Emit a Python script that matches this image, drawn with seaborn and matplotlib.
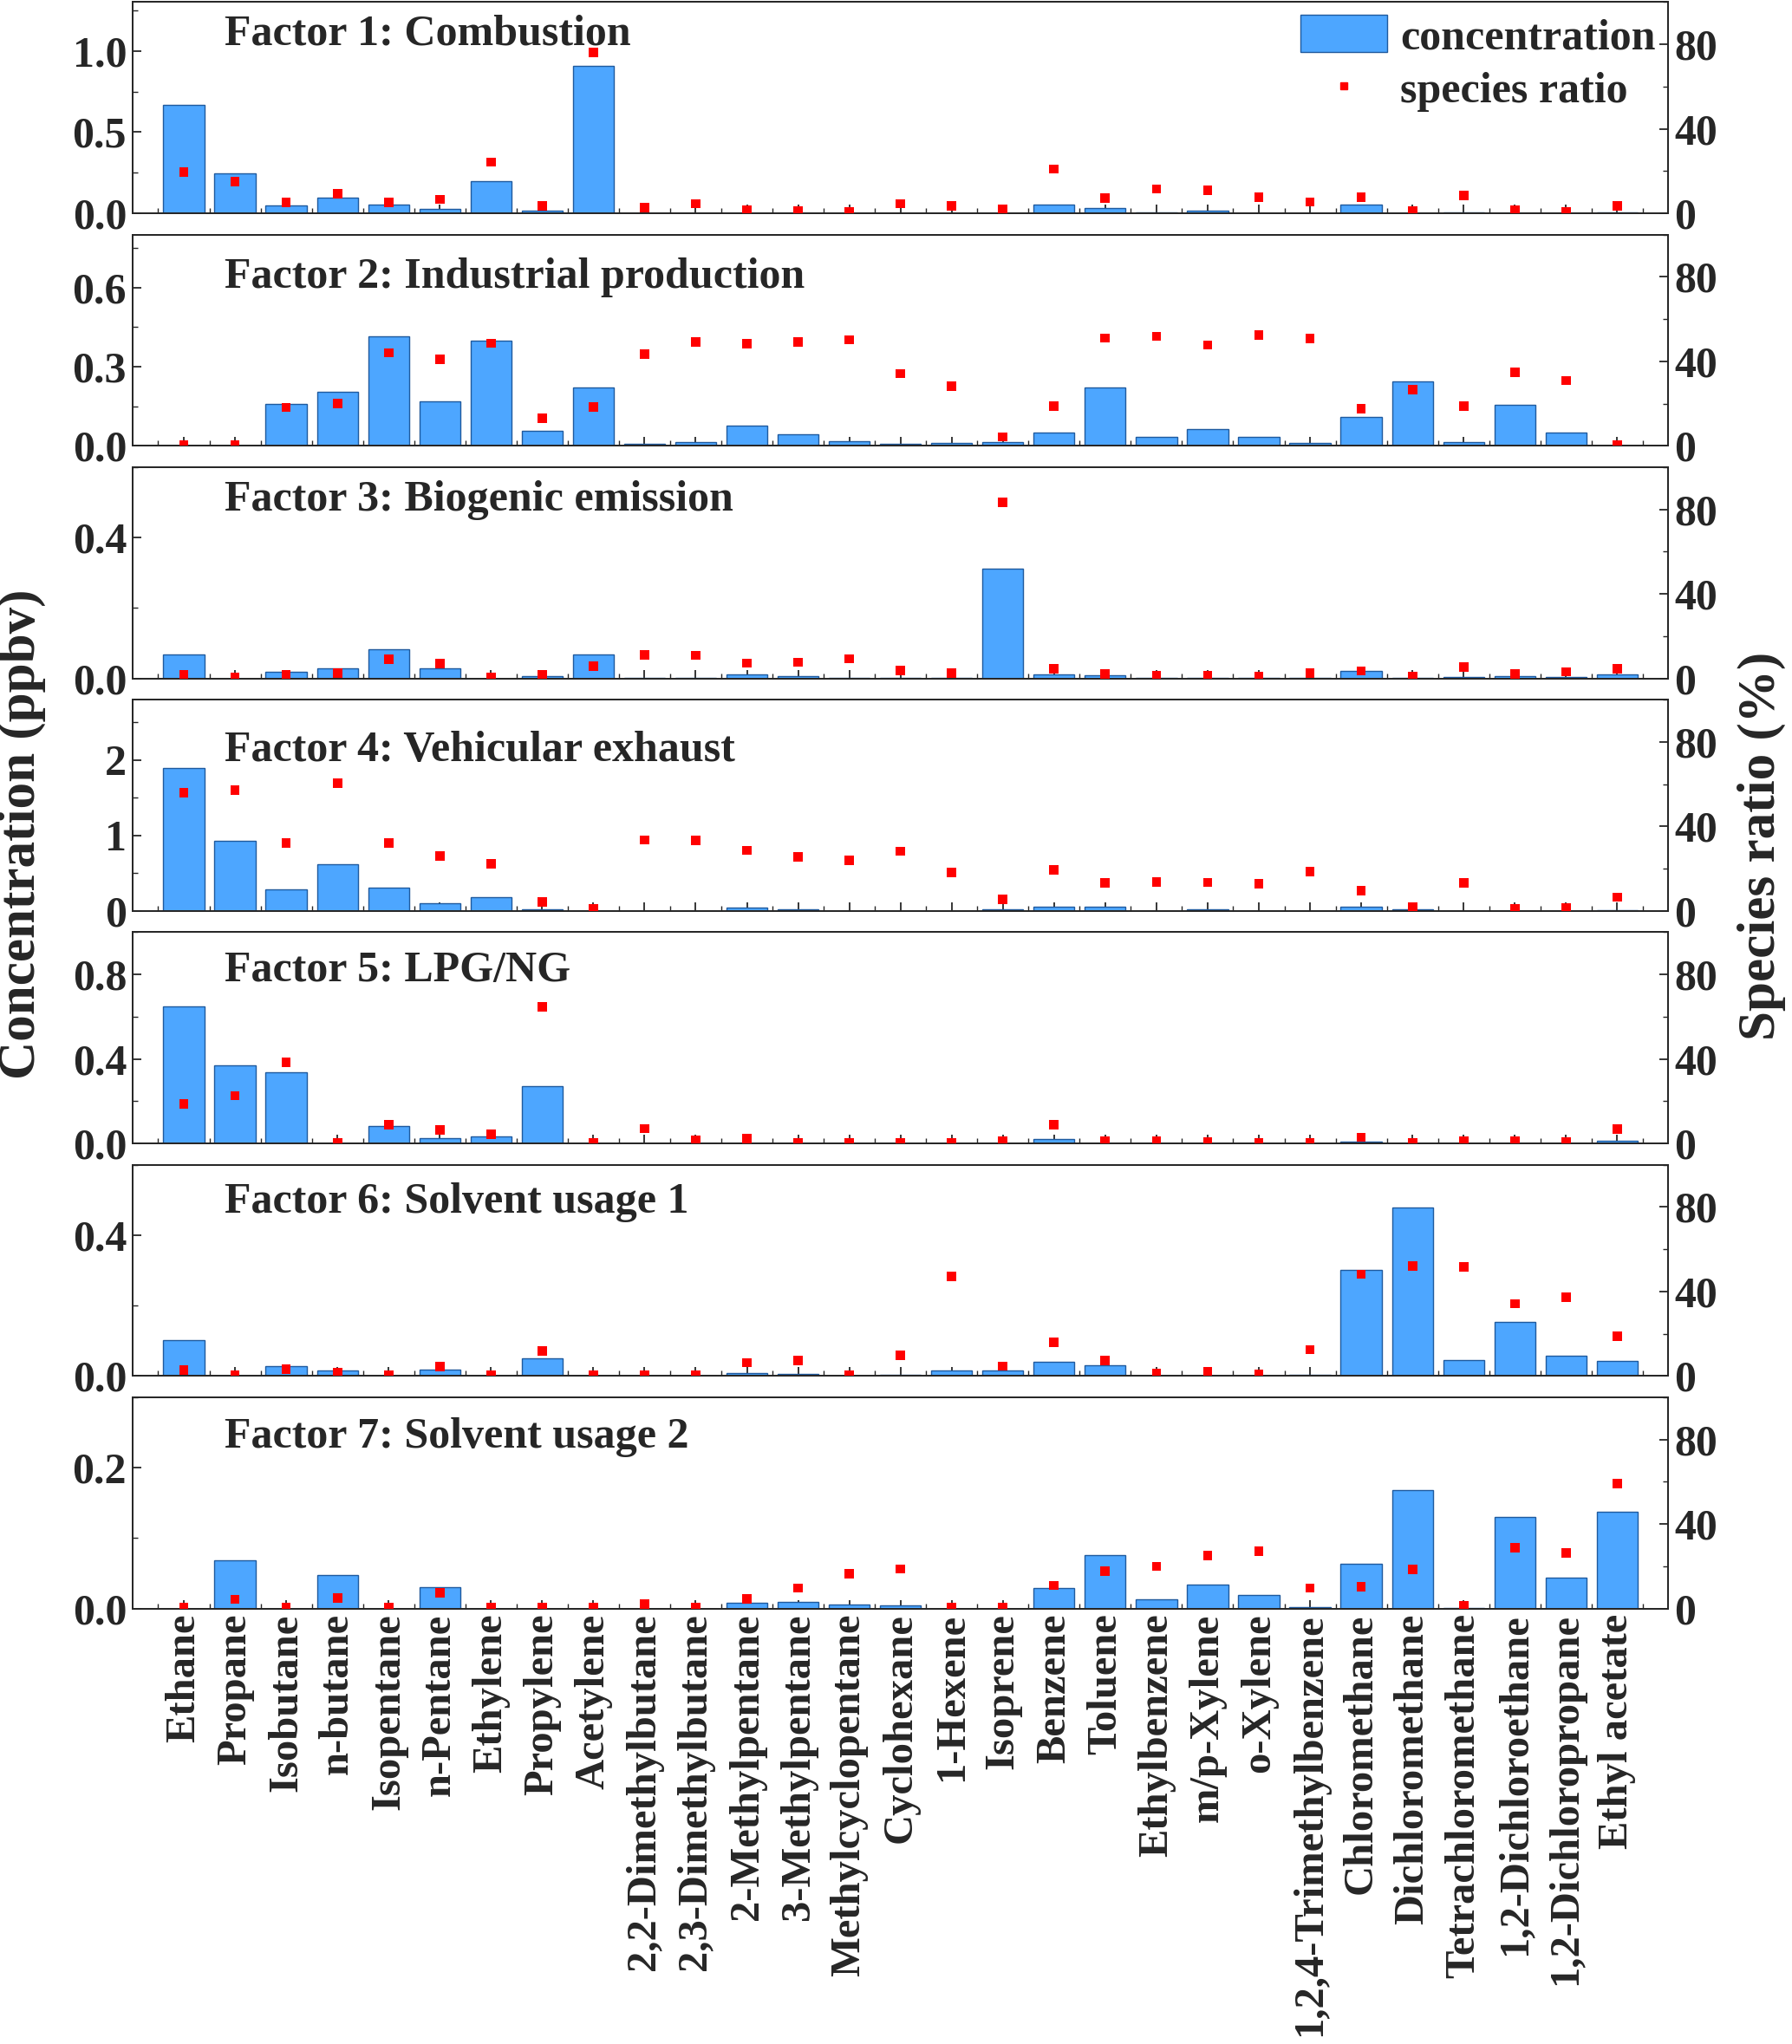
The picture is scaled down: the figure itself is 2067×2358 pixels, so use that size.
import numpy as np
import matplotlib
matplotlib.use("Agg")
import matplotlib.pyplot as plt
from matplotlib.ticker import MultipleLocator, FixedLocator
from matplotlib.patches import Patch
from matplotlib.lines import Line2D
import seaborn as sns

# species (x categories)
species = ["Ethane", "Propane", "Isobutane", "n-butane", "Isopentane", "n-Pentane",
           "Ethylene", "Propylene", "Acetylene", "2,2-Dimethylbutane",
           "2,3-Dimethylbutane", "2-Methylpentane", "3-Methylpentane",
           "Methylcyclopentane", "Cyclohexane", "1-Hexene", "Isoprene", "Benzene",
           "Toluene", "Ethylbenzene", "m/p-Xylene", "o-Xylene",
           "1,2,4-Trimethylbenzene", "Chloromethane", "Dichloromethane",
           "Tetrachloromethane", "1,2-Dichloroethane", "1,2-Dichloropropane",
           "Ethyl acetate"]

factor_names = ["Factor 1: Combustion", "Factor 2: Industrial production",
                "Factor 3: Biogenic emission", "Factor 4: Vehicular exhaust",
                "Factor 5: LPG/NG", "Factor 6: Solvent usage 1",
                "Factor 7: Solvent usage 2"]

# concentration (ppbv)
f1_conc = [0.667, 0.244, 0.048, 0.095, 0.052, 0.026, 0.200, 0.015, 0.910, 0.002, 0.002,
           0.003, 0.002, 0.002, 0.002, 0.001, 0.003, 0.057, 0.032, 0.008, 0.016, 0.002,
           0.001, 0.052, 0.003, 0.006, 0.003, 0.002, 0.008]
f2_conc = [0, 0, 0.159, 0.206, 0.414, 0.170, 0.399, 0.056, 0.220, 0.009, 0.014, 0.077,
           0.044, 0.018, 0.009, 0.010, 0.015, 0.050, 0.222, 0.033, 0.064, 0.033, 0.010,
           0.110, 0.245, 0.015, 0.156, 0.050, 0.0]
f3_conc = [0.069, 0, 0.019, 0.030, 0.084, 0.028, 0, 0.007, 0.068, 0.002, 0.003, 0.0125,
           0.007, 0.003, 0.001, 0.001, 0.312, 0.0115, 0.010, 0.002, 0.002, 0.001, 0.001,
           0.021, 0.001, 0.004, 0.006, 0.004, 0.011]
f4_conc = [1.90, 0.925, 0.285, 0.615, 0.306, 0.106, 0.184, 0.020, 0, 0.003, 0.005, 0.050,
           0.027, 0.005, 0.002, 0.002, 0.020, 0.055, 0.060, 0.005, 0.020, 0.002, 0.002,
           0.060, 0.020, 0.002, 0.002, 0.002, 0.010]
f5_conc = [0.647, 0.370, 0.337, 0, 0.082, 0.025, 0.034, 0.272, 0, 0, 0, 0.003, 0, 0, 0,
           0, 0.003, 0.021, 0.003, 0, 0, 0, 0, 0.010, 0, 0, 0, 0, 0.012]
f6_conc = [0.103, 0, 0.029, 0.0165, 0, 0.019, 0, 0.051, 0, 0, 0, 0.009, 0.006, 0, 0.003,
           0.016, 0.016, 0.041, 0.031, 0, 0.002, 0, 0.003, 0.301, 0.478, 0.045, 0.154,
           0.057, 0.0435]
f7_conc = [0, 0.0686, 0, 0.048, 0, 0.031, 0, 0, 0, 0, 0, 0.0077, 0.0093, 0.006, 0.0045,
           0, 0, 0.029, 0.076, 0.0135, 0.034, 0.019, 0.002, 0.064, 0.168, 0.001, 0.130,
           0.0437, 0.138]

# species ratio (%)
f1_ratio = [19.7, 15.2, 5.3, 9.4, 5.3, 6.7, 24.3, 3.7, 76.2, 2.7, 4.6, 1.6, 1.0, 0.7, 4.6,
            3.6, 1.8, 21.0, 7.2, 11.6, 11.0, 7.8, 5.4, 7.8, 1.2, 8.4, 1.6, 0.8, 3.7]
f2_ratio = [0.5, 0.5, 18.2, 20.1, 44.1, 41.0, 48.6, 13.1, 18.3, 43.6, 49.3, 48.5, 49.1,
            50.2, 34.2, 28.4, 4.3, 19.0, 51.0, 51.9, 47.8, 52.5, 50.8, 17.6, 26.8, 18.9,
            34.7, 31.0, 0.5]
f3_ratio = [1.9, 0.5, 1.9, 2.7, 9.0, 7.0, 0.5, 1.6, 5.7, 11.1, 11.0, 7.3, 7.7, 9.3, 3.8,
            2.5, 83.3, 4.5, 2.2, 1.4, 1.4, 0.8, 2.6, 3.6, 0.8, 5.5, 2.0, 3.2, 4.5]
f4_ratio = [55.9, 57.2, 32.3, 60.5, 32.3, 26.0, 22.4, 4.3, 1.0, 33.6, 33.3, 28.7, 25.6,
            24.1, 28.3, 18.2, 5.6, 19.5, 13.3, 13.7, 13.5, 13.0, 18.6, 9.7, 2.0, 13.2,
            0.9, 1.6, 6.6]
f5_ratio = [18.8, 22.7, 38.4, 0.5, 8.9, 6.6, 4.4, 64.7, 0.5, 7.1, 1.5, 2.5, 0.5, 0.5, 0.5,
            0.5, 1.0, 8.8, 1.3, 1.0, 0.7, 0.5, 0.5, 3.0, 0.5, 1.0, 1.0, 0.7, 7.0]
f6_ratio = [2.9, 0.5, 3.2, 1.8, 0.5, 4.6, 0.5, 12.0, 0.5, 0.5, 0.5, 6.4, 7.5, 0.5, 9.9,
            47.0, 4.7, 15.9, 7.4, 1.3, 1.9, 0.9, 12.5, 48.2, 52.2, 51.8, 34.2, 37.2, 19.0]
f7_ratio = [0.5, 4.4, 0.5, 4.9, 0.5, 7.5, 0.5, 0.5, 0.5, 2.0, 0.5, 4.5, 9.7, 16.5, 18.8,
            0.5, 0.5, 11.0, 17.6, 20.0, 25.0, 27.2, 9.7, 10.3, 18.5, 1.2, 28.7, 26.5, 59.3]

concs = [f1_conc, f2_conc, f3_conc, f4_conc, f5_conc, f6_conc, f7_conc]
ratios = [f1_ratio, f2_ratio, f3_ratio, f4_ratio, f5_ratio, f6_ratio, f7_ratio]

# axis settings per panel: (ymax, major step, minor step), title baseline
ylims = [1.3, 0.8, 0.6, 2.8, 1.0, 0.6, 0.3]
majors = [0.5, 0.3, 0.4, 1.0, 0.4, 0.4, 0.2]
minors = [0.25, 0.15, 0.2, 0.5, 0.2, 0.2, 0.1]
fmts = ["%.1f", "%.1f", "%.1f", "%d", "%.1f", "%.1f", "%.1f"]
title_y = [0.80, 0.75, 0.795, 0.71, 0.767, 0.771, 0.763]

bar_color = "#4da6ff"
edge_color = "#1f5a9e"

sns.set_style("ticks")
plt.rcParams['font.family'] = ['Liberation Serif', 'DejaVu Serif']
plt.rcParams['font.weight'] = 'bold'
plt.rcParams['axes.linewidth'] = 1.3

fs = 36

fig, axes = plt.subplots(7, 1, figsize=(20.67, 23.58), dpi=100, sharex=True)
fig.subplots_adjust(left=0.074, right=0.931, top=0.999, bottom=0.213, hspace=0.1)

xpos = np.arange(len(species))

for i, ax in enumerate(axes):
    sns.barplot(x=species, y=concs[i], color=bar_color, saturation=1, width=0.8,
                edgecolor=edge_color, linewidth=1.0, ax=ax, zorder=2)
    ax.set_xlim(-1, len(species))
    ax.set_ylim(0, ylims[i])
    ax.yaxis.set_major_locator(MultipleLocator(majors[i]))
    ax.yaxis.set_minor_locator(MultipleLocator(minors[i]))
    ax.yaxis.set_major_formatter(plt.FormatStrFormatter(fmts[i]))
    ax.xaxis.set_minor_locator(FixedLocator(np.arange(-0.5, len(species), 1)))
    ax.tick_params(axis='both', which='major', direction='in', length=7, width=1.3,
                   labelsize=fs, pad=5)
    ax.tick_params(axis='both', which='minor', direction='in', length=4, width=1.0)
    ax.tick_params(axis='x', which='both', top=False)
    ax.set_ylabel("")
    for s in ax.spines.values():
        s.set_visible(True)
        s.set_linewidth(1.3)

    ax2 = ax.twinx()
    sns.scatterplot(x=xpos, y=ratios[i], marker='s', color='red', s=60,
                    edgecolor='none', ax=ax2, zorder=3)
    ax2.set_ylim(0, 100)
    ax2.yaxis.set_major_locator(FixedLocator([0, 40, 80]))
    ax2.yaxis.set_minor_locator(MultipleLocator(20))
    ax2.tick_params(axis='y', which='major', direction='in', length=7, width=1.3,
                    labelsize=fs, pad=5)
    ax2.tick_params(axis='y', which='minor', direction='in', length=4, width=1.0)
    ax2.set_ylabel("")

    ax.text(0.06, title_y[i], factor_names[i], transform=ax.transAxes,
            fontsize=fs, fontweight='bold', va='baseline', ha='left', zorder=5)

    if i == 0:
        handles = [Patch(facecolor=bar_color, edgecolor=edge_color, linewidth=1.0),
                   Line2D([], [], marker='s', ls='none', color='red', markersize=6)]
        ax2.legend(handles, ["concentration", "species ratio"], loc='upper right',
                   frameon=False, fontsize=fs, handlelength=2.0, handleheight=0.95,
                   handletextpad=0.3, labelspacing=0.25, borderaxespad=0.1,
                   borderpad=0.2)

axes[-1].set_xticks(xpos)
axes[-1].set_xticklabels(species, rotation=90, fontsize=35, fontweight='bold')
axes[-1].tick_params(axis='x', which='major', pad=4)

fig.text(0.012, 0.592, "Concentration (ppbv)", rotation=90, fontsize=44,
         fontweight='bold', va='center', ha='center')
fig.text(0.983, 0.586, "Species ratio (%)", rotation=90, fontsize=44,
         fontweight='bold', va='center', ha='center')

fig.savefig("out.png", dpi=100)
